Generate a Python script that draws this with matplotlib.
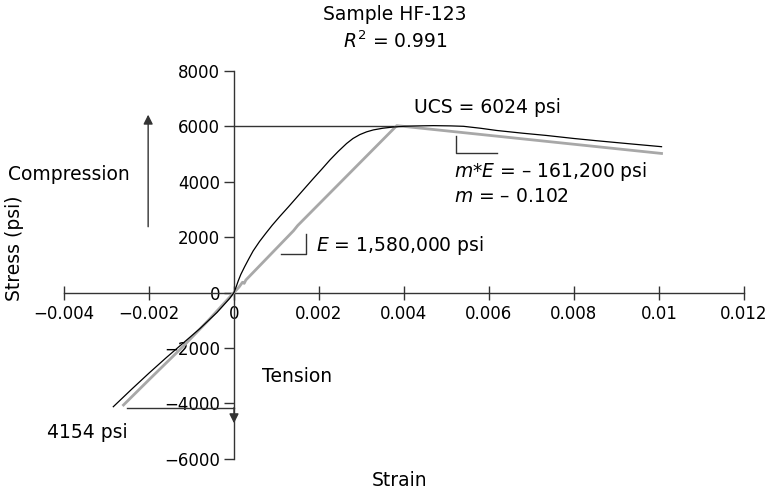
import matplotlib
matplotlib.use('Agg')
import matplotlib.pyplot as plt
from matplotlib.ticker import FixedLocator, FixedFormatter

# --- Daten ---
black_strain = [-0.00284, -0.0024, -0.002, -0.0016, -0.0012, -0.0008, -0.0004, -0.0001, 0.0,
                0.00005, 0.0001, 0.00016, 0.00025, 0.00035, 0.00045, 0.0006, 0.00075,
                0.0009, 0.00108, 0.00128, 0.00148, 0.00168, 0.00187, 0.00207, 0.00226,
                0.00245, 0.00265, 0.0028, 0.00296, 0.00312, 0.00328, 0.0035, 0.00375,
                0.004, 0.00422, 0.00469, 0.0051, 0.0054, 0.0058, 0.00618, 0.0068,
                0.00735, 0.008, 0.00853, 0.0093, 0.01006]
black_stress = [-4123, -3480, -2910, -2360, -1830, -1300, -720, -210, 0,
                200, 420, 650, 930, 1220, 1500, 1840, 2140,
                2430, 2750, 3090, 3440, 3790, 4120, 4460, 4790,
                5090, 5380, 5560, 5700, 5800, 5870, 5930, 5975,
                6000, 6012, 6024, 6015, 6000, 5930, 5850, 5750,
                5670, 5560, 5480, 5370, 5264]

gray_strain = [-0.0026, -0.002, -0.0012, -0.0006, 0.0, 0.00012, 0.0002, 0.00024,
               0.00028, 0.0014, 0.0015, 0.00383, 0.01006]
gray_stress = [-4061, -3150, -1950, -1000, 0, 200, 370, 330,
               452, 2230, 2420, 6024, 5020]

xticks = [-0.004, -0.002, 0, 0.002, 0.004, 0.006, 0.008, 0.01, 0.012]
xtick_labels = ['\u22120.004', '\u22120.002', '0', '0.002', '0.004', '0.006', '0.008', '0.01', '0.012']
yticks = [-6000, -4000, -2000, 0, 2000, 4000, 6000, 8000]
ytick_labels = ['\u22126000', '\u22124000', '\u22122000', '0', '2000', '4000', '6000', '8000']

ucs = 6024
ucs_strain = 0.00383
tension_peak = -4154
tension_strain = -0.00252

axis_col = '#333333'

fig = plt.figure(figsize=(7.75, 4.9), dpi=100)
ax = fig.add_axes([0, 0, 1, 1])
ax.set_xlim(-0.005506, 0.01273)
ax.set_ylim(-7130, 10560)

# Achsen durch den Ursprung
ax.spines['top'].set_visible(False)
ax.spines['right'].set_visible(False)
ax.spines['left'].set_position(('data', 0))
ax.spines['bottom'].set_position(('data', 0))
ax.spines['left'].set_bounds(-6000, 8000)
ax.spines['bottom'].set_bounds(-0.004, 0.012)
for sp in ['left', 'bottom']:
    ax.spines[sp].set_color(axis_col)
    ax.spines[sp].set_linewidth(1.0)

ax.xaxis.set_major_locator(FixedLocator(xticks))
ax.xaxis.set_major_formatter(FixedFormatter(xtick_labels))
ax.yaxis.set_major_locator(FixedLocator(yticks))
ax.yaxis.set_major_formatter(FixedFormatter(ytick_labels))
ax.tick_params(axis='x', direction='inout', length=10, width=1.0, color=axis_col,
               labelsize=12, pad=4)
ax.tick_params(axis='y', direction='out', length=7, width=1.0, color=axis_col,
               labelsize=12, pad=3)

# Kurven
ax.plot(gray_strain, gray_stress, color='#a8a8a8', lw=2.0, zorder=3)
ax.plot(black_strain, black_stress, color='black', lw=0.9, zorder=4)

# UCS-Linie und Zugfestigkeit
ax.plot([0, ucs_strain], [ucs, ucs], color=axis_col, lw=1.0)
ax.plot([tension_strain, 0], [tension_peak, tension_peak], color=axis_col, lw=1.0)

# Pfeile
ax.annotate('', xy=(-0.00202, 6420), xytext=(-0.00202, 2375),
            arrowprops=dict(arrowstyle='-|>', color=axis_col, lw=1.0,
                            mutation_scale=14, shrinkA=0, shrinkB=0))
ax.annotate('', xy=(0, -4720), xytext=(0, tension_peak),
            arrowprops=dict(arrowstyle='-|>', color=axis_col, lw=1.0,
                            mutation_scale=14, shrinkA=0, shrinkB=0))

# Steigungsdreiecke
ax.plot([0.00111, 0.00169, 0.00169], [1379, 1379, 2101], color=axis_col, lw=1.0)
ax.plot([0.00618, 0.00522, 0.00522], [5047, 5047, 5650], color=axis_col, lw=1.0)

fs = 13.5
ax.text(0.00424, 6661, 'UCS = 6024 psi', fontsize=fs, va='center', ha='left')
ax.text(0.00518, 4361, '$m$*$E$ = \u2013 161,200 psi', fontsize=fs, va='center', ha='left')
ax.text(0.00518, 3459, '$m$ = \u2013 0.102', fontsize=fs, va='center', ha='left')
ax.text(0.00193, 1715, '$E$ = 1,580,000 psi', fontsize=fs, va='center', ha='left')
ax.text(-0.00532, 4278, 'Compression', fontsize=fs, va='center', ha='left')
ax.text(0.00066, -3050, 'Tension', fontsize=fs, va='center', ha='left')
ax.text(-0.0044, -5072, '4154 psi', fontsize=fs, va='center', ha='left')

fig.text(395 / 775, 1 - 14 / 490, 'Sample HF-123', fontsize=fs, ha='center', va='center')
fig.text(395 / 775, 1 - 41 / 490, '$R^2$ = 0.991', fontsize=fs, ha='center', va='center')
fig.text(400 / 775, 1 - 480 / 490, 'Strain', fontsize=fs, ha='center', va='center')
fig.text(14 / 775, 1 - 248 / 490, 'Stress (psi)', fontsize=fs, ha='center', va='center',
         rotation=90)

fig.savefig('out.png', dpi=100)
